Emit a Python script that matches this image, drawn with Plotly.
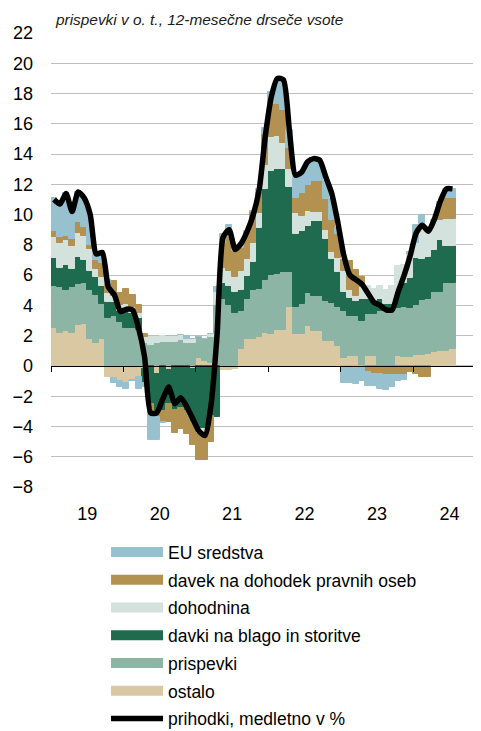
import plotly.graph_objects as go
import pandas as pd

months = [p.strftime("%Y-%m") for p in pd.period_range("2019-01", "2024-07", freq="M")]
year_labels = ["19", "20", "21", "22", "23", "24"]

ostalo = [2.5, 2.2, 2.3, 2.2, 2.7, 2.8, 1.8, 1.5, 1.8, -0.7, -0.8, -1.0,
          -1.1, -0.9, -0.7, -0.2, 0.0, -0.5, 0.0, -0.3, 0.0, 0.0, 0.0, -0.2,
          0.5, 0.3, 0.2, 0.0, -0.3, -0.3, -0.2, 1.1, 1.75, 1.75, 1.9, 2.2,
          2.1, 2.4, 2.4, 3.9, 2.1, 2.1, 2.65, 2.3, 2.3, 1.65, 1.65, 1.3,
          0.55, 0.66, 0.66, 0.0, 0.66, 0.66, 0.0, 0.0, 0.0, 0.66, 0.6, 0.6,
          0.7, 0.75, 0.8, 0.9, 1.0, 1.0, 1.1]
prispevki = [2.8, 3.0, 2.7, 3.0, 2.7, 2.7, 3.2, 3.2, 2.3, 3.2, 3.3, 2.9,
             2.5, 2.5, 2.4, 1.5, 1.4, 1.5, 1.6, 1.6, 1.6, 1.7, 1.5, 1.5,
             1.4, 1.5, 1.7, 4.0, 4.4, 4.0, 3.5, 2.5, 2.65, 3.3, 3.2, 3.5,
             3.9, 3.7, 3.8, 2.3, 1.8, 2.0, 2.2, 2.3, 2.3, 2.65, 2.5, 2.6,
             3.1, 2.65, 2.65, 3.0, 2.75, 2.75, 3.6, 3.6, 3.6, 3.2, 3.3, 3.2,
             3.3, 3.6, 3.6, 4.0, 3.9, 4.5, 4.4]
davki_blago = [1.8, 1.3, 1.7, 1.2, 1.8, 1.5, 1.3, 1.2, 1.2, 1.0, 0.9, 0.7,
               1.1, 1.0, 0.8, -0.9, -2.5, -2.5, -3.0, -2.2, -2.9, -2.8, -3.0, -3.5,
               -4.2, -4.2, -3.3, -3.4, 1.1, 1.3, 1.4, 1.4, 1.55, 1.8, 4.0, 6.0,
               6.9, 6.9, 6.8, 5.6, 4.8, 4.8, 4.4, 5.0, 5.0, 4.1, 2.9, 2.3,
               1.25, 1.2, 1.0, 1.4, 1.0, 0.9, 0.8, 0.5, 0.5, 1.0, 1.6, 2.0,
               3.1, 2.7, 2.8, 2.75, 3.45, 2.4, 2.4]
dohodnina = [1.4, 1.6, 1.6, 1.5, 1.6, 1.6, 1.4, 0.5, 0.6, 0.6, 0.4, 0.4,
             0.5, 0.4, 0.3, 0.4, 0.5, 0.4, 0.4, 0.4, 0.4, 0.35, 0.3, 0.3,
             -0.3, -0.2, 0.2, 0.9, 1.0, 1.0, 1.0, 1.3, 1.1, 1.3, 1.0, 1.6,
             2.2, 2.2, 1.7, 1.2, 1.4, 1.0, 1.0, 0.6, 0.6, 0.6, 0.5, 0.9,
             1.35, 0.5, 0.3, 0.8, 0.9, 0.8, 0.9, 0.9, 1.2, 1.75, 1.2, 1.6,
             1.0, 2.3, 1.8, 1.9, 1.3, 1.8, 1.8]
davek_po = [0.4, 0.4, 0.3, 0.5, 0.7, 0.6, 0.3, 0.6, 0.9, 0.6, 1.0, 0.8,
            1.0, 0.8, 0.5, 0.2, -0.6, -0.4, -0.7, -1.2, -1.5, -1.4, -1.5, -1.5,
            -1.7, -1.8, -1.7, 0.0, 1.6, 2.2, 1.7, 1.5, 1.75, 2.0, 1.4, 2.0,
            2.2, 2.1, 2.2, 1.4, 1.0, 1.5, 1.7, 2.0, 2.0, 2.0, 2.1, 1.6,
            0.75, 1.9, 1.7, 0.7, -0.4, -0.5, -0.5, -0.6, -0.6, -0.6, -0.6, -0.4,
            -0.55, -0.75, -0.75, 0.0, 1.1, 1.4, 1.4]
eu_sredstva = [2.2, 2.3, 2.8, 1.8, 2.0, 1.9, 2.0, 0.4, 0.6, 0.3, -0.3, -0.4,
               -0.4, -0.1, -0.8, -0.3, -1.8, -1.5, -0.1, 0.0, 0.0, 0.0, 0.15, 0.0,
               0.0, 0.0, 0.0, 0.3, 0.6, 0.8, 0.2, 0.2, 0.1, 0.1, 0.2, 0.4,
               0.8, 1.5, 1.8, 1.2, 1.4, 1.2, 1.4, 1.4, 1.3, 1.2, 1.4, 0.4,
               -1.1, -1.1, -1.2, -1.0, -0.9, -0.8, -1.0, -1.0, -0.8, -0.4, -0.3, 0.1,
               1.2, 0.6, 0.2, 0.1, 0.1, 0.6, 0.6]
prihodki = [11.0, 10.7, 11.4, 10.2, 11.5, 11.1, 10.0, 7.4, 7.5, 5.2, 4.7, 3.6,
            3.75, 3.7, 2.5, 0.6, -3.1, -3.1, -2.2, -1.4, -2.5, -2.1, -2.7, -3.5,
            -4.3, -4.6, -2.6, 2.0, 8.5, 9.0, 7.7, 8.1, 8.9, 10.0, 11.7, 15.2,
            17.8, 19.0, 18.9, 15.5, 12.6, 12.8, 13.5, 13.7, 13.6, 12.5, 11.4, 9.5,
            7.3, 6.0, 5.7, 5.4, 4.8, 4.2, 4.0, 3.7, 3.7, 4.9, 6.0, 7.3,
            8.8, 9.3, 8.9, 9.7, 10.9, 11.7, 11.7]

x = list(range(len(months)))
n_years = len(year_labels)
year_mid = [12 * k + 5.5 for k in range(n_years)]
year_edge = [12 * k - 0.5 for k in range(n_years + 1)]

series = [
    ("ostalo", ostalo, "#D9C8A2"),
    ("prispevki", prispevki, "#8DB5A5"),
    ("davki na blago in storitve", davki_blago, "#1F6B4F"),
    ("dohodnina", dohodnina, "#D3E2DC"),
    ("davek na dohodek pravnih oseb", davek_po, "#B39150"),
    ("EU sredstva", eu_sredstva, "#98C1D0"),
]
legend_order = ["EU sredstva", "davek na dohodek pravnih oseb", "dohodnina",
                "davki na blago in storitve", "prispevki", "ostalo"]
colors = {s[0]: s[2] for s in series}

fig = go.Figure()
for name, vals, col in series:
    fig.add_trace(go.Bar(x=x, y=vals, name=name, width=1.0,
                         marker=dict(color=col, line=dict(width=1.0, color=col)),
                         showlegend=False, legendgroup=name,
                         customdata=months,
                         hovertemplate="%{customdata}: %{y}<extra>" + name + "</extra>"))
# legend swatches drawn as wide rectangles, as in the original
for rank, name in enumerate(legend_order):
    fig.add_trace(go.Scatter(x=[None], y=[None], mode="lines", name=name,
                             line=dict(color=colors[name], width=10.7),
                             legendgroup=name, legendrank=rank + 1, showlegend=True))
fig.add_trace(go.Scatter(x=x, y=prihodki, mode="lines", name="prihodki, medletno v %",
                         line=dict(color="black", width=5.5, shape="spline", smoothing=0.6),
                         legendgroup="line", legendrank=10,
                         customdata=months,
                         hovertemplate="%{customdata}: %{y}<extra></extra>"))
# invisible trace hosting the zero axis with the year-boundary ticks
fig.add_trace(go.Scatter(x=[None], y=[None], xaxis="x2", showlegend=False, hoverinfo="skip"))

# the page body has an 8px default margin, so the figure is offset by 8px;
# the figure is made taller than the window so the legend never pushes the margins
xr = [-0.5, 70.72]
fig.update_layout(
    width=481, height=760,
    margin=dict(l=43.3, r=8, t=25.3, b=281.3),
    plot_bgcolor="white", paper_bgcolor="white",
    barmode="relative", bargap=0,
    font=dict(family="Liberation Sans, Arial, sans-serif", size=18, color="black"),
    legend=dict(x=0.128, y=-0.104, xanchor="left", yanchor="top",
                itemwidth=52, tracegroupgap=2.0, traceorder="grouped",
                font=dict(size=17.5, color="black"), bgcolor="rgba(0,0,0,0)"),
    xaxis=dict(range=xr, tickvals=year_mid, ticktext=year_labels, showgrid=False,
               zeroline=False, showline=False, ticks="", ticklabelstandoff=14,
               automargin=False),
    xaxis2=dict(range=xr, overlaying="x", anchor="free", position=8 / 30,
                tickvals=year_edge, ticks="outside", ticklen=5, tickwidth=1.3,
                tickcolor="black", showline=True, linecolor="black", linewidth=1.3,
                showticklabels=False, showgrid=False, zeroline=False, automargin=False),
    yaxis=dict(range=[-8, 22], dtick=2, tick0=0, showgrid=True, gridcolor="#BFBFBF",
               gridwidth=1.3, zeroline=False, showline=False, ticks="",
               ticklabelstandoff=17, automargin=False),
    annotations=[dict(text="<i>prispevki v o. t., 12-mesečne drseče vsote</i>",
                      xref="paper", yref="paper", x=0, y=1, xanchor="left", yanchor="bottom",
                      xshift=2, yshift=3, showarrow=False,
                      font=dict(size=15.4, color="#1a1a1a"))],
)
fig.write_html("out.html")
